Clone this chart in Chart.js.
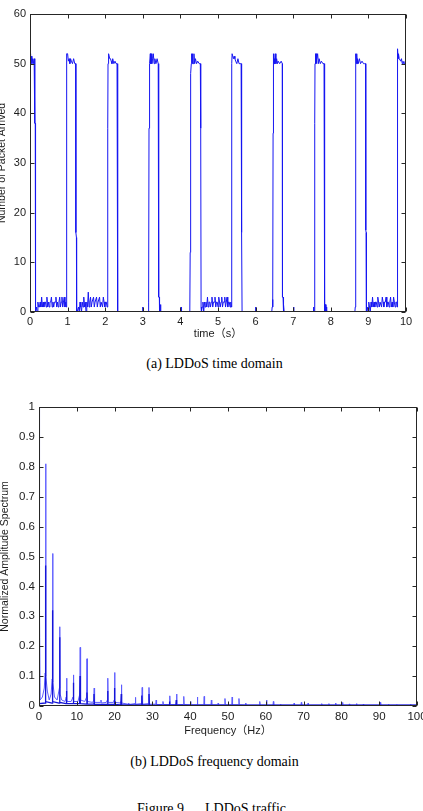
<!DOCTYPE html>
<html><head><meta charset="utf-8">
<script src="https://cdn.jsdelivr.net/npm/chart.js@4.4.1/dist/chart.umd.min.js"></script>
<style>
html,body{margin:0;padding:0;width:423px;height:811px;overflow:hidden;background:#fff;}
canvas{position:absolute;left:0;}
#c1{top:0;}
#c2{top:380px;}
.cap{position:absolute;left:3px;width:423px;text-align:center;font-family:"Liberation Serif","Times New Roman",serif;font-size:14px;line-height:16px;color:#000;white-space:pre;}
</style></head><body>
<canvas id="c1" width="423" height="345"></canvas>
<div class="cap" style="top:356px">(a) LDDoS time domain</div>
<canvas id="c2" width="450" height="365"></canvas>
<div class="cap" style="top:754px">(b) LDDoS frequency domain</div>
<div class="cap" style="top:801px;left:0">Figure 9      LDDoS traffic</div>
<script>
// ---------- (a) time domain ----------
const timeSec = [
 0,0.01,0.02,0.03,0.05,0.07,0.09,0.11,0.125,0.13,0.14,0.145,
 0.15,0.17,0.19,0.21,0.23,0.25,0.27,0.29,0.31,0.33,0.35,0.37,0.39,0.41,0.43,0.45,0.47,0.49,0.51,0.53,0.55,0.57,0.59,0.61,0.63,0.65,0.67,0.69,0.71,0.73,0.75,0.77,0.79,0.81,0.83,0.85,0.87,0.89,0.91,0.93,0.95,
 0.965,0.97,0.975,0.98,1.0,1.02,1.04,1.06,1.08,1.1,1.13,1.16,1.19,1.215,1.22,1.235,1.24,
 1.25,1.27,1.29,1.31,1.33,1.35,1.37,1.39,1.41,1.43,1.45,1.47,1.49,1.51,1.53,1.55,1.57,1.59,1.61,1.63,1.65,1.67,1.69,1.71,1.73,1.75,1.77,1.79,1.81,1.83,1.85,1.87,1.89,1.91,1.93,1.95,1.97,1.99,2.01,2.03,2.05,
 2.065,2.07,2.075,2.08,2.1,2.12,2.14,2.16,2.18,2.2,2.23,2.26,2.29,2.315,2.32,2.335,2.34,
 2.99,3.0,3.01,3.14,3.15,3.16,
 3.165,3.17,3.18,3.19,3.2,3.21,3.22,3.24,3.26,3.28,3.3,3.32,3.35,3.38,3.41,3.42,3.425,3.44,3.445,3.46,3.47,3.48,
 4.01,4.02,4.03,4.25,
 4.26,4.265,4.28,4.29,4.3,4.31,4.32,4.34,4.36,4.38,4.4,4.43,4.46,4.5,4.53,4.535,4.545,4.55,
 4.56,4.58,4.60,4.62,4.64,4.66,4.68,4.70,4.72,4.74,4.76,4.78,4.80,4.82,4.84,4.86,4.88,4.90,4.92,4.94,4.96,4.98,5.00,5.02,5.04,5.06,5.08,5.10,5.12,5.14,5.16,5.18,5.20,5.22,5.24,5.26,5.28,5.30,5.32,5.34,
 5.355,5.36,5.37,5.375,5.39,5.41,5.43,5.45,5.47,5.5,5.53,5.56,5.59,5.615,5.62,5.635,5.64,
 5.99,6.0,6.01,6.43,6.44,6.45,6.46,
 6.465,6.47,6.48,6.49,6.5,6.51,6.52,6.54,6.56,6.58,6.6,6.64,6.68,6.71,6.715,6.73,6.735,6.75,6.76,
 7.0,7.01,7.02,7.53,7.54,7.55,7.565,
 7.57,7.575,7.58,7.59,7.6,7.61,7.62,7.63,7.65,7.67,7.69,7.72,7.75,7.79,7.82,7.825,7.835,7.845,7.86,7.87,7.88,7.89,
 8.64,8.65,8.655,8.66,
 8.665,8.67,8.68,8.69,8.7,8.71,8.73,8.76,8.79,8.83,8.87,8.9,8.925,8.93,8.94,8.945,
 8.95,8.97,8.99,9.01,9.03,9.05,9.07,9.09,9.11,9.13,9.15,9.17,9.19,9.21,9.23,9.25,9.27,9.29,9.31,9.33,9.35,9.37,9.39,9.41,9.43,9.45,9.47,9.49,9.51,9.53,9.55,9.57,9.59,9.61,9.63,9.65,9.67,9.69,9.71,9.73,9.75,
 9.765,9.77,9.775,9.78,9.79,9.8,9.82,9.84,9.86,9.88,9.9,9.92,9.94,9.96,9.98,10.0
];
const packets = [
 51,52,50,51.5,50,51,50,51,50,38,38,1,
 0,1,0,2,1,1,2,1,3,1, 2,1,2,2,1,3,1,2,1,2, 2,3,1,2,1,2,2,3,1,2, 1,2,3,1,2,3,1,2,3,1, 2,
 1,36,50,52,52,50.5,51,50,51,50.5,50,51,50,50,16,15,0,
 0,0,1,0,2,1,0,2,1,3, 1,2,0,2,1,4,1,2,3,1, 2,2,3,1,2,2,3,1,2,2, 3,1,2,2,1,3,2,1,2,2, 1,
 1,37,50,52,52,51,51,50.5,50,51,50,50.5,50,50,3,3,0,
 0,1,0,0,1.5,2,
 37,48,48,50,52,50,52,50,51,52,50,51,50,51,50,50,3,3,0,0,1.5,0,
 0,1,0,0,
 12,48,48,50,52,50,52,50,52,50,51,50,50.5,50,50,38,37,1,
 0,1,2,0,2,1,2,1,3,1, 2,2,1,2,3,1,2,2,3,1, 2,2,1,3,2,1,2,3,1,2, 2,3,1,2,3,1,2,2,1,2,
 1,37,50,52,52,51,51.5,51,50.5,50,51,50,50,50,16,16,0,
 0,1,0,0,1,2.5,1,
 36,50,52,50,51,50,52,50,51,50,50.5,50,50.5,50,3,3,0,1.5,0,
 0,1,0,0,1,0,0,
 12.5,38,50,52,50,52,50,51,52,50,51,50,50.5,50,50,38,3.5,0,1.5,0,1,0,
 0,1,2,12.5,
 50,52,50,52,50,51,50,51,50,50.5,50,50,50,16.5,16,1,
 0,1,0,2,1,0,2,1,3,1, 2,1,2,2,1,3,2,1,2,2, 1,3,2,1,2,2,3,1,2,2, 1,2,3,1,2,1,3,2,1,2, 2,
 1,36,50,53,51,52,51,51,50.5,51,50,50.5,50,50,50.5,50
];
const timeTicks = [0,1,2,3,4,5,6,7,8,9,10];
const packetTicks = [0,10,20,30,40,50,60];

// ---------- (b) frequency domain ----------
const freqLight = [
 0,0.1,0.3,0.9,1.4,1.62,1.75,1.85,2.2,2.7,
 3.2,3.48,3.6,3.7,4.1,4.8,5.25,5.4,5.5,5.6,6.0,
 6.9,7.2,7.3,7.4,8.5,9.0,9.1,9.2,10.3,10.8,10.9,11.0,12.1,12.6,12.7,12.8,
 14.2,14.5,14.6,14.7,16.3,16.4,16.5,17.8,18.1,18.2,18.3,19.7,19.9,20.0,20.1,
 21.6,21.7,21.8,21.9,23.6,23.7,23.8,25.4,25.5,25.6,27.2,27.3,27.4,29.0,29.1,29.2,
 30.9,31.0,31.1,32.7,32.8,32.9,34.5,34.6,34.7,36.3,36.4,36.5,38.2,38.3,38.4,
 40.0,40.1,40.2,41.8,41.9,42.0,43.6,43.7,43.8,45.5,45.6,45.7,47.3,47.4,47.5,
 49.1,49.2,49.3,51.0,51.1,51.2,52.8,52.9,53.0,54.6,54.7,54.8,58.3,58.4,58.5,
 60.1,60.2,60.3,61.9,62.0,62.1,63.8,63.9,64.0,67.4,67.5,67.6,69.3,69.4,69.5,
 71.1,71.2,71.3,74.7,74.8,74.9,76.6,76.7,76.8,78.4,78.5,78.6,80.2,80.3,80.4,
 82.0,82.1,82.2,83.9,84.0,84.1,85.7,85.8,85.9,90.2,90.3,90.4,92.4,92.5,92.6,
 94.6,94.7,94.8,98.2,98.3,98.4,100
];
const ampLight = [
 1.0,0.35,0.02,0.03,0.06,0.11,0.81,0.10,0.05,0.02,
 0.04,0.09,0.51,0.08,0.03,0.02,0.05,0.06,0.265,0.04,0.02,
 0.015,0.03,0.093,0.015,0.015,0.03,0.104,0.015,0.015,0.04,0.196,0.02,0.015,0.03,0.158,0.015,
 0.012,0.02,0.06,0.012,0.012,0.02,0.01,0.012,0.02,0.093,0.012,0.012,0.02,0.112,0.012,
 0.01,0.015,0.071,0.01,0.006,0.01,0.005,0.008,0.029,0.006,0.008,0.062,0.006,0.008,0.062,0.006,
 0.006,0.02,0.005,0.005,0.015,0.005,0.005,0.034,0.005,0.005,0.04,0.005,0.005,0.032,0.005,
 0.004,0.015,0.004,0.004,0.03,0.004,0.004,0.032,0.004,0.004,0.02,0.004,0.004,0.01,0.004,
 0.004,0.025,0.004,0.004,0.03,0.004,0.004,0.025,0.004,0.003,0.01,0.003,0.003,0.015,0.003,
 0.003,0.02,0.003,0.003,0.015,0.003,0.003,0.006,0.003,0.003,0.01,0.003,0.003,0.012,0.003,
 0.003,0.01,0.003,0.003,0.008,0.003,0.003,0.008,0.003,0.003,0.01,0.003,0.003,0.012,0.003,
 0.003,0.007,0.003,0.003,0.008,0.003,0.003,0.006,0.003,0.003,0.012,0.003,0.003,0.006,0.003,
 0.003,0.005,0.003,0.003,0.006,0.003,0.003
];
const freqDark = [
 0,0.1,1.6,1.7,1.8,3.45,3.55,3.65,5.3,5.45,5.55,7.15,7.25,7.35,9.0,9.08,9.18,
 10.75,10.85,10.95,12.6,12.68,12.78,14.45,14.55,14.65,18.05,18.15,18.25,19.85,19.95,20.05,
 21.65,21.75,21.85,27.1,27.2,27.3,29.0,29.1,29.2,34.4,34.5,34.6,36.2,36.3,36.4,100
];
const ampDark = [
 1.0,0.008,0.01,0.47,0.015,0.01,0.32,0.015,0.01,0.23,0.012,0.008,0.05,0.008,0.008,0.078,0.008,
 0.008,0.10,0.008,0.006,0.045,0.006,0.006,0.04,0.005,0.005,0.05,0.005,0.005,0.06,0.005,
 0.004,0.04,0.004,0.004,0.035,0.004,0.004,0.04,0.003,0.003,0.015,0.003,0.003,0.02,0.003,0.003
];
const freqTicks = [0,10,20,30,40,50,60,70,80,90,100];
const ampTicks = [0,0.1,0.2,0.3,0.4,0.5,0.6,0.7,0.8,0.9,1];
const ampTickLabels = ['0','0.1','0.2','0.3','0.4','0.5','0.6','0.7','0.8','0.9','1'];

if (timeSec.length !== packets.length) console.error('time len mismatch', timeSec.length, packets.length);
if (freqLight.length !== ampLight.length) console.error('light len mismatch', freqLight.length, ampLight.length);
if (freqDark.length !== ampDark.length) console.error('dark len mismatch', freqDark.length, ampDark.length);

const SANS = '"Liberation Sans", Arial, Helvetica, "Noto Sans CJK SC", sans-serif';
const INK = '#1c1c1c';

const matlabBox = {
  id: 'matlabBox',
  afterDraw(chart) {
    const {ctx, chartArea: a, scales: {x, y}} = chart;
    const L = Math.round(a.left) + 0.5, R = Math.round(a.right) - 0.5;
    const T = Math.round(a.top) + 0.5, B = Math.round(a.bottom) - 0.5;
    ctx.save();
    ctx.strokeStyle = '#262626';
    ctx.lineWidth = 1;
    ctx.beginPath();
    x.ticks.forEach(t => {
      const p = Math.round(x.getPixelForValue(t.value)) + 0.5;
      ctx.moveTo(p, B); ctx.lineTo(p, B - 4);
      ctx.moveTo(p, T); ctx.lineTo(p, T + 4);
    });
    y.ticks.forEach(t => {
      const p = Math.round(y.getPixelForValue(t.value)) + 0.5;
      ctx.moveTo(L, p); ctx.lineTo(L + 4, p);
      ctx.moveTo(R, p); ctx.lineTo(R - 4, p);
    });
    ctx.stroke();
    ctx.strokeRect(L, T, R - L, B - T);
    ctx.restore();
  }
};

function axisBase(tickSize) {
  return {
    grid: {display: false, drawTicks: false},
    border: {display: false},
    ticks: {font: {family: SANS, size: tickSize}, color: INK, autoSkip: false, maxRotation: 0}
  };
}

// Chart (a)
const xa = axisBase(11), ya = axisBase(11);
new Chart(document.getElementById('c1'), {
  type: 'line',
  data: {datasets: [{
    data: timeSec.map((t, i) => ({x: t, y: packets[i]})),
    borderColor: '#1616f2', borderWidth: 1, pointRadius: 0, tension: 0, fill: false
  }]},
  options: {
    responsive: false, animation: false, devicePixelRatio: 1,
    layout: {padding: {top: 14, right: 17, bottom: 0, left: 0}},
    plugins: {legend: {display: false}, tooltip: {enabled: false}},
    scales: {
      x: Object.assign(xa, {
        type: 'linear', min: 0, max: 10,
        afterBuildTicks(s) { s.ticks = timeTicks.map(v => ({value: v})); },
        afterFit(s) { s.height = 33; },
        ticks: Object.assign(xa.ticks, {padding: 3}),
        title: {display: true, text: 'time（s）', color: INK, font: {family: SANS, size: 11}, padding: {top: 0, bottom: 4}}
      }),
      y: Object.assign(ya, {
        type: 'linear', min: 0, max: 60,
        afterBuildTicks(s) { s.ticks = packetTicks.map(v => ({value: v})); },
        afterFit(s) { s.width = 30; },
        ticks: Object.assign(ya.ticks, {padding: 4}),
        title: {display: true, text: 'Number of Packet Arrived', color: INK, font: {family: SANS, size: 10.5}, padding: {top: -4, bottom: 0}}
      })
    }
  },
  plugins: [matlabBox]
});

// Chart (b)
const xb = axisBase(11.5), yb = axisBase(11.5);
new Chart(document.getElementById('c2'), {
  type: 'line',
  data: {datasets: [
    {
      data: freqDark.map((f, i) => ({x: f, y: ampDark[i]})),
      borderColor: '#1515d6', borderWidth: 1.3, pointRadius: 0, tension: 0, fill: false, order: 0
    },
    {
      data: freqLight.map((f, i) => ({x: f, y: ampLight[i]})),
      borderColor: '#5c5cff', borderWidth: 1, pointRadius: 0, tension: 0, fill: false, order: 1
    }
  ]},
  options: {
    responsive: false, animation: false, devicePixelRatio: 1,
    layout: {padding: {top: 27, right: 33, bottom: 0, left: 0}},
    plugins: {legend: {display: false}, tooltip: {enabled: false}},
    scales: {
      x: Object.assign(xb, {
        type: 'linear', min: 0, max: 100,
        afterBuildTicks(s) { s.ticks = freqTicks.map(v => ({value: v})); },
        afterFit(s) { s.height = 39; },
        ticks: Object.assign(xb.ticks, {padding: 4}),
        title: {display: true, text: 'Frequency（Hz）', color: INK, font: {family: SANS, size: 11}, padding: {top: 0, bottom: 7}}
      }),
      y: Object.assign(yb, {
        type: 'linear', min: 0, max: 1,
        afterBuildTicks(s) { s.ticks = ampTicks.map(v => ({value: v})); },
        afterFit(s) { s.width = 39; },
        ticks: Object.assign(yb.ticks, {padding: 4, callback: (v, i) => ampTickLabels[i]}),
        title: {display: true, text: 'Normalized Amplitude Spectrum', color: INK, font: {family: SANS, size: 10.5}, padding: {top: -1, bottom: 0}}
      })
    }
  },
  plugins: [matlabBox]
});
</script>
</body></html>
